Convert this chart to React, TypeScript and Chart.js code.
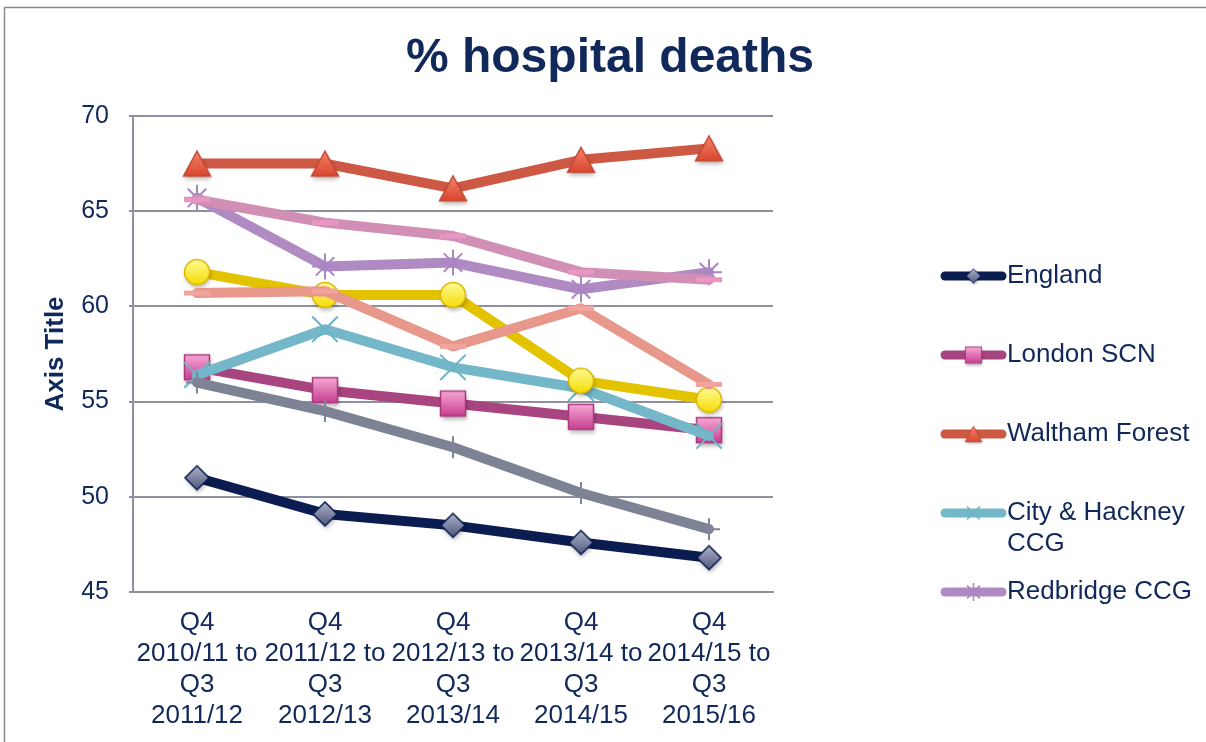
import React, { useEffect, useRef } from 'react';
import { Chart, registerables } from 'chart.js';

Chart.register(...registerables);

// ---------------- data ----------------
const categories: string[][] = [
  ['Q4', '2010/11 to', 'Q3', '2011/12'],
  ['Q4', '2011/12 to', 'Q3', '2012/13'],
  ['Q4', '2012/13 to', 'Q3', '2013/14'],
  ['Q4', '2013/14 to', 'Q3', '2014/15'],
  ['Q4', '2014/15 to', 'Q3', '2015/16'],
];

const yTicks = [45, 50, 55, 60, 65, 70];

const englandValues = [51.0, 49.1, 48.5, 47.6, 46.8];
const londonScnValues = [56.8, 55.6, 54.9, 54.2, 53.5];
const walthamForestValues = [67.5, 67.5, 66.2, 67.7, 68.3];
const cityHackneyValues = [56.4, 58.8, 56.8, 55.7, 53.2];
const redbridgeValues = [65.7, 62.1, 62.3, 60.9, 61.8];
const series6Values = [61.8, 60.6, 60.6, 56.1, 55.1];
const series7Values = [60.7, 60.8, 57.9, 59.9, 55.9];
const series8Values = [65.6, 64.4, 63.7, 61.8, 61.4];
const series9Values = [56.0, 54.5, 52.6, 50.2, 48.3];

const seriesNames: (string | string[])[] = [
  'England',
  'London SCN',
  'Waltham Forest',
  ['City & Hackney', 'CCG'],
  'Redbridge CCG',
  'Series 6',
  'Series 7',
  'Series 8',
  'Series 9',
];

// ---------------- styles ----------------
const FONT = '"Liberation Sans", Arial, Helvetica, sans-serif';
const NAVY = '#10285a';
const GRID = '#8e909f';

type MarkerKind = 'diamond' | 'square' | 'triangle' | 'circle';

function makeMarker(kind: MarkerKind, s = 1): HTMLCanvasElement {
  const size = Math.ceil(44 * s);
  const c = document.createElement('canvas');
  c.width = size;
  c.height = size;
  const ctx = c.getContext('2d')!;
  const cx = size / 2;
  const cy = size / 2;
  let stops: [string, string];
  let stroke: string;
  ctx.save();
  ctx.shadowColor = 'rgba(0,0,0,0.28)';
  ctx.shadowBlur = 4 * s;
  ctx.shadowOffsetX = 1 * s;
  ctx.shadowOffsetY = 3 * s;
  ctx.beginPath();
  if (kind === 'diamond') {
    const r = 12 * s;
    ctx.moveTo(cx, cy - r);
    ctx.lineTo(cx + r, cy);
    ctx.lineTo(cx, cy + r);
    ctx.lineTo(cx - r, cy);
    ctx.closePath();
    stops = ['#b4b8cc', '#4a5279'];
    stroke = '#0b1c50';
  } else if (kind === 'square') {
    const h = 12.5 * s;
    ctx.rect(cx - h, cy - h, 2 * h, 2 * h);
    stops = ['#f8a9d8', '#c63d8f'];
    stroke = '#a83a7c';
  } else if (kind === 'triangle') {
    const w = 13.5 * s;
    const h = 12.5 * s;
    ctx.moveTo(cx, cy - h);
    ctx.lineTo(cx + w, cy + h);
    ctx.lineTo(cx - w, cy + h);
    ctx.closePath();
    stops = ['#f5846a', '#d8452f'];
    stroke = '#c14a35';
  } else {
    ctx.arc(cx, cy, 12.5 * s, 0, Math.PI * 2);
    stops = ['#fffb9a', '#f4dc00'];
    stroke = '#dcb800';
  }
  const g = ctx.createLinearGradient(0, cy - 13 * s, 0, cy + 13 * s);
  g.addColorStop(0, stops[0]);
  g.addColorStop(1, stops[1]);
  ctx.fillStyle = g;
  ctx.fill();
  ctx.restore();
  ctx.lineWidth = 1.5 * s;
  ctx.strokeStyle = stroke;
  ctx.stroke();
  return c;
}

const framePlugin = {
  id: 'frame',
  beforeDraw(chart: any) {
    const ctx = chart.ctx as CanvasRenderingContext2D;
    ctx.save();
    ctx.fillStyle = '#ffffff';
    ctx.fillRect(0, 0, chart.width, chart.height);
    ctx.strokeStyle = '#8a8a8a';
    ctx.lineWidth = 1.5;
    ctx.strokeRect(4.5, 7.5, chart.width + 20, chart.height + 20);
    ctx.restore();
  },
};

export default function App() {
  const ref = useRef<HTMLCanvasElement | null>(null);

  useEffect(() => {
    if (!ref.current) return;

    const big = {
      diamond: makeMarker('diamond'),
      square: makeMarker('square'),
      triangle: makeMarker('triangle'),
      circle: makeMarker('circle'),
    };
    const small = {
      diamond: makeMarker('diamond', 0.6),
      square: makeMarker('square', 0.65),
      triangle: makeMarker('triangle', 0.62),
    };

    const base = {
      borderWidth: 10,
      tension: 0,
      borderJoinStyle: 'round' as const,
      borderCapStyle: 'round' as const,
      fill: false,
    };

    const values = [
      englandValues,
      londonScnValues,
      walthamForestValues,
      cityHackneyValues,
      redbridgeValues,
      series6Values,
      series7Values,
      series8Values,
      series9Values,
    ];

    const styles: any[] = [
      { borderColor: '#0b1c50', pointStyle: big.diamond, pointRadius: 12 },
      { borderColor: '#a8447f', pointStyle: big.square, pointRadius: 12 },
      { borderColor: '#cd5843', pointStyle: big.triangle, pointRadius: 12 },
      { borderColor: '#74b7c8', pointStyle: 'crossRot', pointRadius: 18, pointBorderWidth: 2, pointBorderColor: '#6cb4c6' },
      { borderColor: '#b08ac2', pointStyle: 'star', pointRadius: 13, pointBorderWidth: 2, pointBorderColor: '#a985c4' },
      { borderColor: '#e3c300', pointStyle: big.circle, pointRadius: 12 },
      { borderColor: '#e8978b', pointStyle: 'line', pointRadius: 13, pointBorderWidth: 5, pointBorderColor: '#f2a39d' },
      { borderColor: '#d28fb5', pointStyle: 'line', pointRadius: 13, pointBorderWidth: 5, pointBorderColor: '#e996c2' },
      { borderColor: '#7e8295', pointStyle: 'cross', pointRadius: 11, pointBorderWidth: 2, pointBorderColor: '#80849a' },
    ];

    const datasets = values.map((v, i) => ({
      ...base,
      label: Array.isArray(seriesNames[i]) ? (seriesNames[i] as string[]).join(' ') : (seriesNames[i] as string),
      data: v,
      order: values.length - i,
      pointBackgroundColor: styles[i].borderColor,
      pointBorderColor: styles[i].borderColor,
      pointBorderWidth: 1,
      ...styles[i],
    }));

    const legendSmall: any[] = [small.diamond, small.square, small.triangle, 'crossRot', 'star'];

    const titleLegendPlugin = {
      id: 'titleLegend',
      afterDraw(chart: any) {
        const ctx = chart.ctx as CanvasRenderingContext2D;
        ctx.save();
        // title
        ctx.fillStyle = NAVY;
        ctx.font = `bold 48px ${FONT}`;
        ctx.textAlign = 'center';
        ctx.textBaseline = 'alphabetic';
        ctx.fillText('% hospital deaths', 610, 72);

        // legend (first five series)
        const ys = [276, 355, 434, 513, 592];
        const x0 = 945;
        const x1 = 1002;
        const xm = (x0 + x1) / 2;
        for (let i = 0; i < 5; i++) {
          const y = ys[i];
          const color = styles[i].borderColor;
          ctx.beginPath();
          ctx.strokeStyle = color;
          ctx.lineWidth = 9;
          ctx.lineCap = 'round';
          ctx.moveTo(x0, y);
          ctx.lineTo(x1, y);
          ctx.stroke();
          const m = legendSmall[i];
          if (typeof m === 'string') {
            ctx.beginPath();
            ctx.strokeStyle = styles[i].pointBorderColor;
            ctx.lineWidth = 1.5;
            ctx.lineCap = 'butt';
            const r = 9;
            const d = r * Math.SQRT1_2;
            ctx.moveTo(xm - d, y - d);
            ctx.lineTo(xm + d, y + d);
            ctx.moveTo(xm - d, y + d);
            ctx.lineTo(xm + d, y - d);
            if (m === 'star') {
              ctx.moveTo(xm, y - r);
              ctx.lineTo(xm, y + r);
            }
            ctx.stroke();
          } else {
            ctx.drawImage(m, xm - m.width / 2, y - m.height / 2);
          }
          ctx.fillStyle = NAVY;
          ctx.font = `26px ${FONT}`;
          ctx.textAlign = 'left';
          ctx.textBaseline = 'middle';
          const name = seriesNames[i];
          const lines = Array.isArray(name) ? name : [name];
          lines.forEach((t, k) => ctx.fillText(t, 1007, y + k * 31));
        }
        ctx.restore();
      },
    };

    const chart = new Chart(ref.current, {
      type: 'line',
      data: { labels: categories as any, datasets: datasets as any },
      options: {
        responsive: false,
        animation: false,
        events: [],
        layout: { padding: { top: 116, right: 433, left: 0, bottom: 0 } },
        plugins: {
          legend: { display: false },
          title: { display: false },
          tooltip: { enabled: false },
        },
        scales: {
          x: {
            type: 'category',
            offset: true,
            grid: { display: false, drawTicks: false },
            border: { display: true, color: GRID, width: 2 },
            ticks: {
              autoSkip: false,
              maxRotation: 0,
              minRotation: 0,
              padding: 15,
              color: NAVY,
              font: { family: FONT, size: 26, lineHeight: 1.2 },
            },
            afterFit: (s: any) => {
              s.height = 150;
            },
          },
          y: {
            type: 'linear',
            min: yTicks[0],
            max: yTicks[yTicks.length - 1],
            afterBuildTicks: (s: any) => {
              s.ticks = yTicks.map((v) => ({ value: v }));
            },
            ticks: {
              padding: 20,
              color: NAVY,
              font: { family: FONT, size: 25 },
            },
            grid: { color: GRID, lineWidth: 2, tickLength: 4, drawTicks: true },
            border: { display: true, color: GRID, width: 2 },
            title: {
              display: true,
              text: 'Axis Title',
              color: NAVY,
              font: { family: FONT, size: 26, weight: 'bold' },
              padding: { top: 40, bottom: 0 },
            },
            afterFit: (s: any) => {
              s.width = 133;
            },
          },
        },
      } as any,
      plugins: [framePlugin, titleLegendPlugin],
    });

    return () => {
      chart.destroy();
    };
  }, []);

  return (
    <div style={{ position: 'fixed', left: 0, top: 0, width: 1206, height: 742, background: '#fff' }}>
      <canvas ref={ref} width={1206} height={742} style={{ display: 'block', width: 1206, height: 742 }} />
    </div>
  );
}
